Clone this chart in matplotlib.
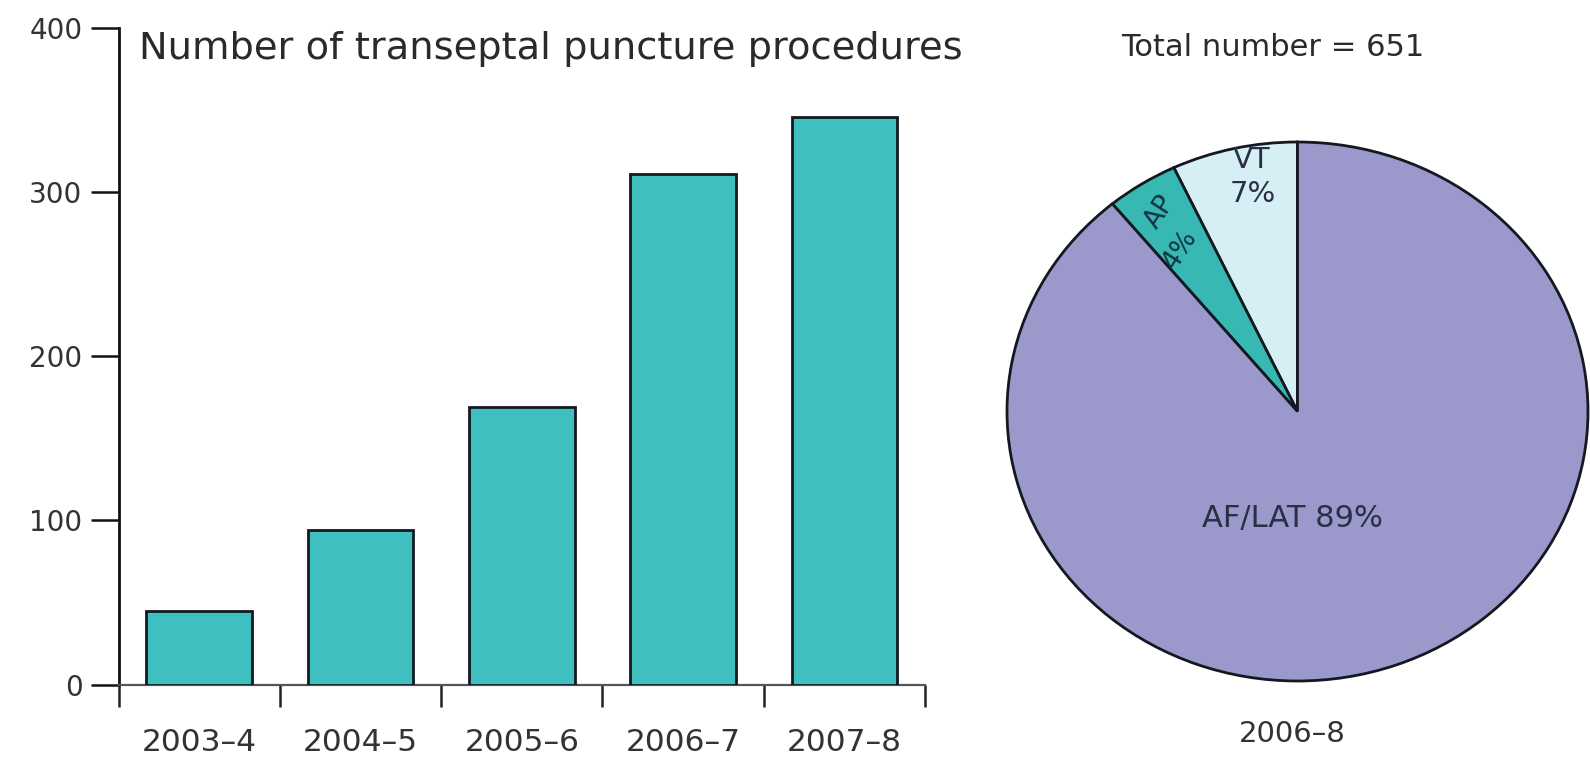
import matplotlib
matplotlib.use("Agg")
import matplotlib.pyplot as plt
import numpy as np

plt.rcParams['font.family'] = ['DejaVu Sans']

# ---- data ----
periods = ["2003\u20134", "2004\u20135", "2005\u20136", "2006\u20137", "2007\u20138"]
procedures = [45, 94, 169, 311, 346]
yticks = [0, 100, 200, 300, 400]

pie_labels = ["VT", "AP", "AF/LAT"]
pie_shares = [7, 4, 89]
pie_total = 651
pie_period = "2006\u20138"
bar_title = "Number of transeptal puncture procedures"

# ---- style ----
W, H = 1590, 757
fig = plt.figure(figsize=(W / 100, H / 100), dpi=100)
bar_color = "#3fbfbf"
edge = "#141820"
pie_colors = ["#d6eff5", "#38b8b2", "#9b99cb"]

def fx(px):
    return px / W

def fy(py):
    return 1 - py / H

# bar chart axes
ax = fig.add_axes([fx(118.6), fy(684.5), fx(925) - fx(118.6), fy(28.4) - fy(684.5)])
x = np.arange(len(periods))
ax.bar(x, procedures, width=0.655, color=bar_color, edgecolor=edge, linewidth=2, zorder=3)
ax.set_xlim(-0.5, len(periods) - 0.5)
ax.set_ylim(0, 400)
ax.set_yticks(yticks)
ax.set_yticklabels([str(v) for v in yticks], fontsize=20, color="#333333")
ax.tick_params(axis='y', direction='out', length=20, width=1.8, pad=6, color="#111111")
ax.set_xticks(x)
ax.set_xticklabels(periods, fontsize=22.5, color="#333333")
ax.tick_params(axis='x', which='major', length=0, pad=31)
ax.set_xticks(np.arange(-0.5, len(periods)), minor=True)
ax.tick_params(axis='x', which='minor', direction='out', length=16, width=1.8, color="#222222")
for s in ['top', 'right']:
    ax.spines[s].set_visible(False)
ax.spines['left'].set_linewidth(2)
ax.spines['left'].set_color("#111111")
ax.spines['bottom'].set_linewidth(1.6)
ax.spines['bottom'].set_color("#555555")

fig.text(fx(139), fy(49), bar_title, fontsize=27.6, color="#2a2a2a", ha='left', va='center')

# pie chart axes (slightly elliptical as in the reference)
cx, cy, rx, ry = 1297.5, 411.5, 290.5, 269.5
pax = fig.add_axes([fx(cx - rx), fy(cy + ry), 2 * rx / W, 2 * ry / H])
pax.pie(pie_shares, colors=pie_colors, startangle=90, counterclock=True,
        wedgeprops=dict(edgecolor=edge, linewidth=2))
pax.set_aspect('auto')
pax.set_xlim(-1, 1)
pax.set_ylim(-1, 1)
pax.axis('off')

def pd(px, py):
    return (px - cx) / rx, (cy - py) / ry

tc = "#2a2f45"
pax.text(*pd(1252, 160), pie_labels[0], fontsize=21, color=tc, ha='center', va='center')
pax.text(*pd(1253, 194), f"{pie_shares[0]}%", fontsize=21, color=tc, ha='center', va='center')
pax.text(*pd(1160, 212), pie_labels[1], fontsize=19, color="#113344", ha='center', va='center', rotation=57)
pax.text(*pd(1180, 250), f"{pie_shares[1]}%", fontsize=19, color="#113344", ha='center', va='center', rotation=57)
pax.text(*pd(1292, 518), f"{pie_labels[2]} {pie_shares[2]}%", fontsize=22, color=tc, ha='center', va='center')

fig.text(fx(1273), fy(47), f"Total number = {pie_total}", fontsize=22, color="#2a2a2a", ha='center', va='center')
fig.text(fx(1292), fy(734), pie_period, fontsize=21, color="#333333", ha='center', va='center')

fig.savefig("out.png", dpi=100)
